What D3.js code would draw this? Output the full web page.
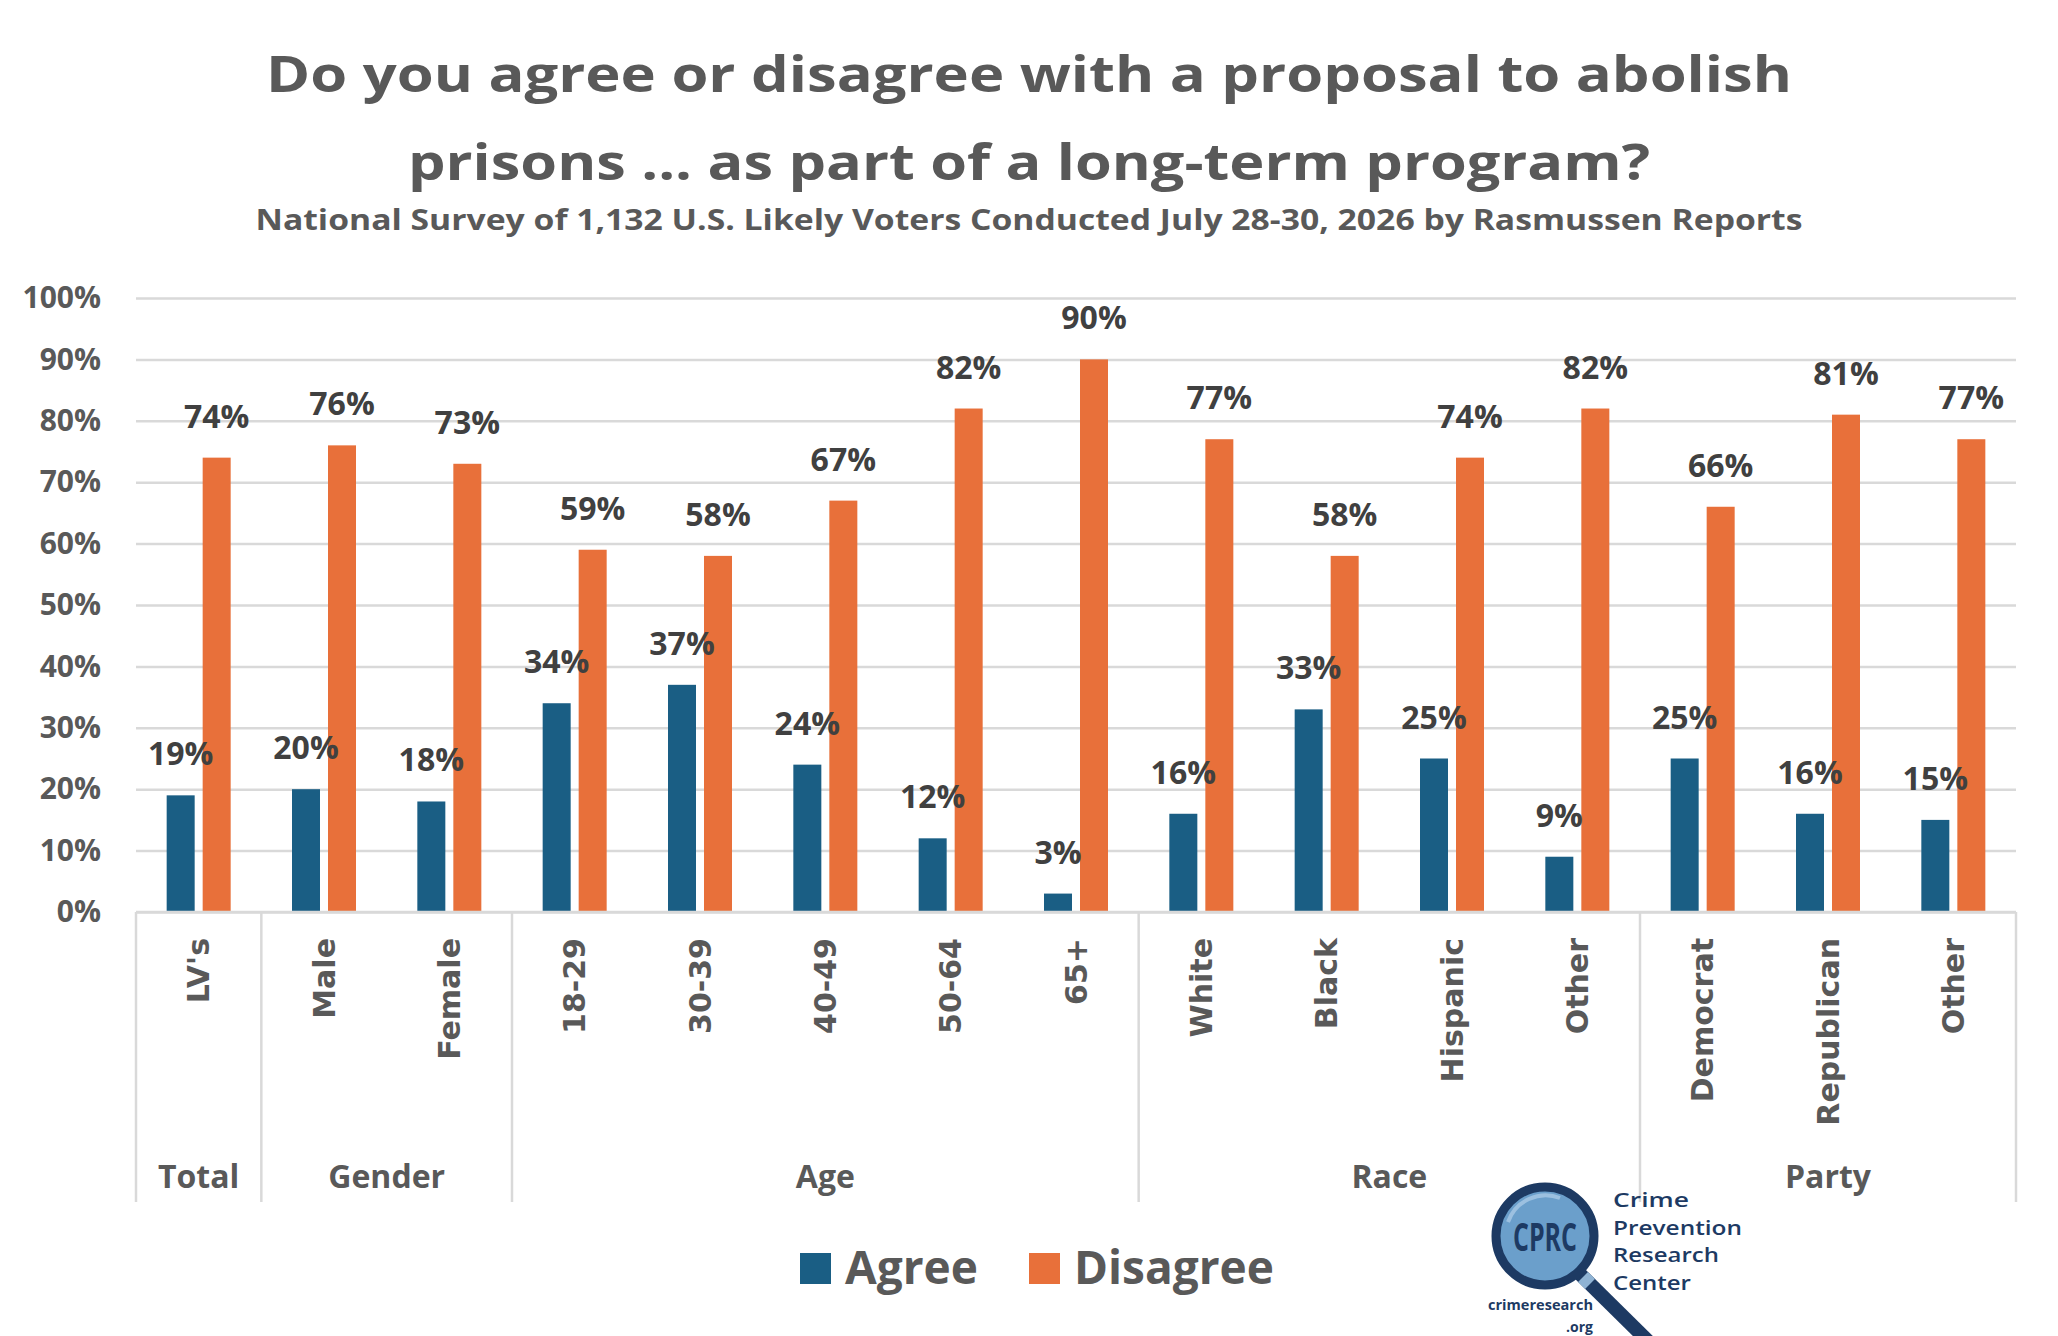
<!DOCTYPE html>
<html><head><meta charset="utf-8">
<script src="https://cdn.jsdelivr.net/npm/d3@7"></script>
<style>html,body{margin:0;padding:0;background:#fff;} svg{display:block}</style>
</head><body><svg id="c" width="2058" height="1336"></svg>
<script>
const categories = ["LV's","Male","Female","18-29","30-39","40-49","50-64","65+","White","Black","Hispanic","Other","Democrat","Republican","Other"];
const groupNames = ["Total","Gender","Age","Race","Party"];
const groupSizes = [1,2,5,4,3];
const seriesNames = ["Agree","Disagree"];
const agree    = [19,20,18,34,37,24,12,3,16,33,25,9,25,16,15];
const disagree = [74,76,73,59,58,67,82,90,77,58,74,82,66,81,77];
const yTicks = [0,10,20,30,40,50,60,70,80,90,100];
const titleLines = ["Do you agree or disagree with a proposal to abolish","prisons ... as part of a long-term program?"];
const subtitle = "National Survey of 1,132 U.S. Likely Voters Conducted July 28-30, 2026 by Rasmussen Reports";
const colors = ["#1a5e84","#e8703a"];

const svg = d3.select("#c");
const W = 2058;
const L = 136, R = 2016, T = 298, B = 912;
const gray = "#595959";
const F = "'Open Sans', sans-serif";

const x0 = d3.scaleBand().domain(d3.range(categories.length)).range([L, R]).padding(0);
const x1 = d3.scaleBand().domain(seriesNames).range([x0.bandwidth()/2 - 32, x0.bandwidth()/2 + 32]).paddingInner(8/36).paddingOuter(0);
const y = d3.scaleLinear().domain([0,100]).range([B, T]);

// titles
const tl = [[titleLines[0], 92, 50, 1526], [titleLines[1], 180, 50, 1242], [subtitle, 230, 28, 1547]];
tl.forEach(([t, yy, fs, len]) => {
  svg.append("text").attr("x", W/2).attr("y", yy).attr("text-anchor","middle")
    .attr("font-family", F).attr("font-weight", 700).attr("font-size", fs).attr("fill", gray)
    .attr("textLength", len).attr("lengthAdjust","spacingAndGlyphs").text(t);
});

// gridlines + y axis
const yAxis = d3.axisLeft(y).tickValues(yTicks).tickFormat(d => d + "%").tickSize(-(R - L)).tickPadding(35);
const ga = svg.append("g").attr("transform", `translate(${L},0)`).call(yAxis);
ga.select(".domain").remove();
ga.selectAll(".tick line").attr("stroke", "#d9d9d9").attr("stroke-width", 2.5);
ga.selectAll(".tick text").attr("font-family", F).attr("font-weight", 700).attr("font-size", 30).attr("fill", gray);

// bars
const data = categories.map((c, i) => ({i, vals: [agree[i], disagree[i]]}));
const cg = svg.selectAll("g.cat").data(data).join("g").attr("class","cat")
  .attr("transform", d => `translate(${x0(d.i)},0)`);
cg.selectAll("rect").data(d => d.vals.map((v, k) => ({s: seriesNames[k], v, k}))).join("rect")
  .attr("x", d => x1(d.s)).attr("width", x1.bandwidth())
  .attr("y", d => y(d.v)).attr("height", d => y(0) - y(d.v))
  .attr("fill", d => colors[d.k]);
cg.selectAll("text.lbl").data(d => d.vals.map((v, k) => ({s: seriesNames[k], v, k}))).join("text")
  .attr("class","lbl")
  .attr("x", d => x1(d.s) + x1.bandwidth()/2).attr("y", d => y(d.v) - 30)
  .attr("text-anchor","middle").attr("font-family", F).attr("font-weight", 700)
  .attr("font-size", 32).attr("fill", "#404040").text(d => d.v + "%");

// x axis baseline
svg.append("line").attr("x1", L).attr("x2", R).attr("y1", B).attr("y2", B)
  .attr("stroke", "#d9d9d9").attr("stroke-width", 2.5);

// category labels
svg.selectAll("text.cat").data(categories).join("text").attr("class","cat")
  .attr("transform", (d, i) => `translate(${x0(i) + x0.bandwidth()/2},938) rotate(-90)`)
  .attr("text-anchor","end").attr("dy","0.36em")
  .attr("font-family","'DejaVu Sans', sans-serif").attr("font-weight",700).attr("font-size",30)
  .attr("fill", gray).text(d => d);

// group separators & labels
let acc = 0;
const bounds = [0];
groupSizes.forEach(s => { acc += s; bounds.push(acc); });
bounds.forEach(b => {
  const xx = b < categories.length ? x0(b) : R;
  svg.append("line").attr("x1", xx).attr("x2", xx).attr("y1", B).attr("y2", 1202)
    .attr("stroke", "#d9d9d9").attr("stroke-width", 2.5);
});
groupNames.forEach((g, k) => {
  const a = x0(bounds[k]);
  const b = bounds[k+1] < categories.length ? x0(bounds[k+1]) : R;
  svg.append("text").attr("x", (a + b)/2).attr("y", 1188).attr("text-anchor","middle")
    .attr("font-family", F).attr("font-weight", 700).attr("font-size", 32).attr("fill", gray).text(g);
});

// legend
const legX = [800, 1029];
seriesNames.forEach((s, k) => {
  svg.append("rect").attr("x", legX[k]).attr("y", 1253).attr("width", 31).attr("height", 31).attr("fill", colors[k]);
  svg.append("text").attr("x", legX[k] + 45).attr("y", 1284)
    .attr("font-family", F).attr("font-weight", 700).attr("font-size", 46).attr("fill", gray).text(s);
});

// logo
const navy = "#1d3a63";
const lg = svg.append("g");
lg.append("line").attr("x1", 1578).attr("y1", 1272).attr("x2", 1652).attr("y2", 1345)
  .attr("stroke", navy).attr("stroke-width", 14);
lg.append("line").attr("x1", 1583).attr("y1", 1277).attr("x2", 1590).attr("y2", 1284)
  .attr("stroke", "#8fb3d4").attr("stroke-width", 14);
lg.append("circle").attr("cx", 1545).attr("cy", 1236).attr("r", 49).attr("fill", "#6b9fcb")
  .attr("stroke", navy).attr("stroke-width", 9);
lg.append("path").attr("d", "M1508,1222 A40,40 0 0 1 1560,1198").attr("fill","none")
  .attr("stroke", "#9cc0e0").attr("stroke-width", 4);
lg.append("text").attr("x", 1545).attr("y", 1251).attr("text-anchor","middle")
  .attr("font-family", F).attr("font-weight", 700).attr("font-size", 40).attr("fill", navy)
  .attr("textLength", 64).attr("lengthAdjust","spacingAndGlyphs").text("CPRC");
const logoLines = [["Crime",1207,76],["Prevention",1234.5,129],["Research",1262,106],["Center",1289.5,78]];
logoLines.forEach(([t, yy, len]) => {
  lg.append("text").attr("x", 1613).attr("y", yy).attr("font-family", F).attr("font-weight", 600)
    .attr("font-size", 20).attr("fill", navy)
    .attr("textLength", len).attr("lengthAdjust","spacingAndGlyphs").text(t);
});
lg.append("text").attr("x", 1593).attr("y", 1310).attr("text-anchor","end").attr("font-family", F)
  .attr("font-weight", 700).attr("font-size", 14).attr("fill", navy)
  .attr("textLength", 105).attr("lengthAdjust","spacingAndGlyphs").text("crimeresearch");
lg.append("text").attr("x", 1593).attr("y", 1332).attr("text-anchor","end").attr("font-family", F)
  .attr("font-weight", 700).attr("font-size", 14).attr("fill", navy).text(".org");
</script></body></html>
